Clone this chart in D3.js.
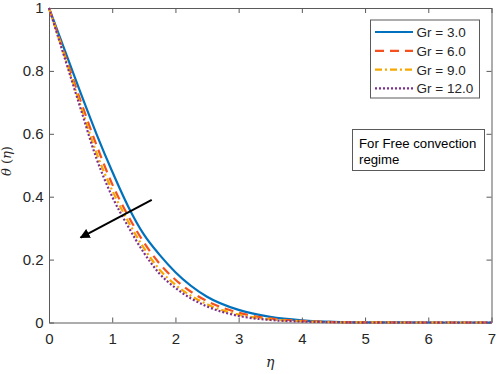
<!DOCTYPE html>
<html><head><meta charset="utf-8">
<script src="https://cdn.jsdelivr.net/npm/d3@7"></script>
<style>body{margin:0;background:#fff}svg{display:block}</style>
</head><body>
<svg id="c" width="498" height="374"></svg>
<script>
const eta = [0, 0.25, 0.5, 0.75, 1.0, 1.25, 1.5, 1.75, 2.0, 2.5, 3.0, 3.5, 4.0, 4.5, 5.0, 6.0, 7.0];
const gr3  = [1, 0.865, 0.73, 0.60, 0.48, 0.37, 0.28, 0.215, 0.16, 0.082, 0.040, 0.018, 0.007, 0.002, 0.0005, 0, 0];
const gr6  = [1, 0.852, 0.705, 0.565, 0.44, 0.34, 0.255, 0.187, 0.136, 0.068, 0.031, 0.013, 0.005, 0.0015, 0.0003, 0, 0];
const gr9  = [1, 0.845, 0.69, 0.54, 0.42, 0.322, 0.237, 0.168, 0.12, 0.058, 0.025, 0.010, 0.004, 0.001, 0.0002, 0, 0];
const gr12 = [1, 0.84, 0.68, 0.522, 0.40, 0.306, 0.222, 0.155, 0.11, 0.051, 0.021, 0.008, 0.003, 0.001, 0, 0, 0];
const seriesNames = ["Gr = 3.0", "Gr = 6.0", "Gr = 9.0", "Gr = 12.0"];
const xTicks = [0, 1, 2, 3, 4, 5, 6, 7];
const yTicks = [0, 0.2, 0.4, 0.6, 0.8, 1];
const arrowFrom = [1.625, 0.39];
const arrowTo = [0.50, 0.27];
const note = ["For Free convection", "regime"];

const series = [
  {name: seriesNames[0], vals: gr3,  color: "#0072BD", dash: null},
  {name: seriesNames[1], vals: gr6,  color: "#F4511E", dash: "9,6"},
  {name: seriesNames[2], vals: gr9,  color: "#F7A800", dash: "7,3,2,3"},
  {name: seriesNames[3], vals: gr12, color: "#7E2F8E", dash: "2,2"}
];

const svg = d3.select("#c");
const L = 49, R = 491.5, T = 8, B = 322.5;
const x = d3.scaleLinear().domain([0, 7]).range([L, R]);
const y = d3.scaleLinear().domain([0, 1]).range([B, T]);
const axisColor = "#5a5a5a";
const font = "Liberation Sans, Arial, sans-serif";

// axes
const gx = svg.append("g").attr("transform", `translate(0,${B})`)
  .call(d3.axisBottom(x).tickValues(xTicks).tickFormat(d3.format("d")).tickSizeInner(-5).tickSizeOuter(0).tickPadding(11));
const gy = svg.append("g").attr("transform", `translate(${L},0)`)
  .call(d3.axisLeft(y).tickValues(yTicks).tickFormat(d => d === 0 || d === 1 ? d3.format("d")(d) : d3.format(".1f")(d)).tickSizeInner(-5).tickSizeOuter(0).tickPadding(5.5));
const gxt = svg.append("g").attr("transform", `translate(0,${T})`)
  .call(d3.axisTop(x).tickValues(xTicks).tickFormat("").tickSizeInner(-5).tickSizeOuter(0));
const gyr = svg.append("g").attr("transform", `translate(${R},0)`)
  .call(d3.axisRight(y).tickValues(yTicks).tickFormat("").tickSizeInner(-5).tickSizeOuter(0));
[gx, gy, gxt, gyr].forEach(g => {
  g.selectAll("path").attr("stroke", axisColor).attr("stroke-width", 1);
  g.selectAll("line").attr("stroke", axisColor);
  g.selectAll("text").attr("fill", "#262626").style("font-family", font).style("font-size", "15px");
});

// lines
const line = d3.line().x((d, i) => x(eta[i])).y(d => y(d)).curve(d3.curveMonotoneX);
series.forEach(s => {
  svg.append("path").datum(s.vals).attr("d", line)
    .attr("fill", "none").attr("stroke", s.color).attr("stroke-width", 2.2)
    .attr("stroke-dasharray", s.dash);
});

// arrow
svg.append("defs").append("marker").attr("id", "ah").attr("viewBox", "0 0 10 10")
  .attr("refX", 9).attr("refY", 5).attr("markerWidth", 5).attr("markerHeight", 5)
  .attr("orient", "auto").append("path").attr("d", "M0,0 L10,5 L0,10 z").attr("fill", "#000");
svg.append("line").attr("x1", x(arrowFrom[0])).attr("y1", y(arrowFrom[1]))
  .attr("x2", x(arrowTo[0])).attr("y2", y(arrowTo[1]))
  .attr("stroke", "#000").attr("stroke-width", 2).attr("marker-end", "url(#ah)");

// legend
const lg = svg.append("g");
lg.append("rect").attr("x", 370.5).attr("y", 20).attr("width", 109).attr("height", 78)
  .attr("fill", "#fff").attr("stroke", axisColor).attr("stroke-width", 1);
series.forEach((s, i) => {
  const yy = 32 + i * 18.8;
  lg.append("line").attr("x1", 375).attr("x2", 413).attr("y1", yy).attr("y2", yy)
    .attr("stroke", s.color).attr("stroke-width", 2.2).attr("stroke-dasharray", s.dash);
  lg.append("text").attr("x", 416.5).attr("y", yy + 5).text(s.name)
    .attr("fill", "#262626").style("font-family", font).style("font-size", "13.5px");
});

// annotation
svg.append("rect").attr("x", 352.5).attr("y", 129.5).attr("width", 132).attr("height", 41)
  .attr("fill", "#fff").attr("stroke", axisColor).attr("stroke-width", 1);
note.forEach((t, i) => {
  svg.append("text").attr("x", 359).attr("y", 148 + i * 16).text(t)
    .attr("fill", "#000").style("font-family", font).style("font-size", "13.2px");
});

// axis labels
svg.append("text").attr("x", (L + R) / 2).attr("y", 367).attr("text-anchor", "middle")
  .style("font-family", "DejaVu Serif, serif").style("font-style", "italic").style("font-size", "14px")
  .attr("fill", "#262626").text("η");
svg.append("text").attr("transform", `translate(11,161) rotate(-90)`).attr("text-anchor", "middle")
  .style("font-family", "DejaVu Serif, serif").style("font-size", "13px").attr("fill", "#262626")
  .html('<tspan font-style="italic">θ</tspan> (<tspan font-style="italic">η</tspan>)');
</script>
</body></html>
